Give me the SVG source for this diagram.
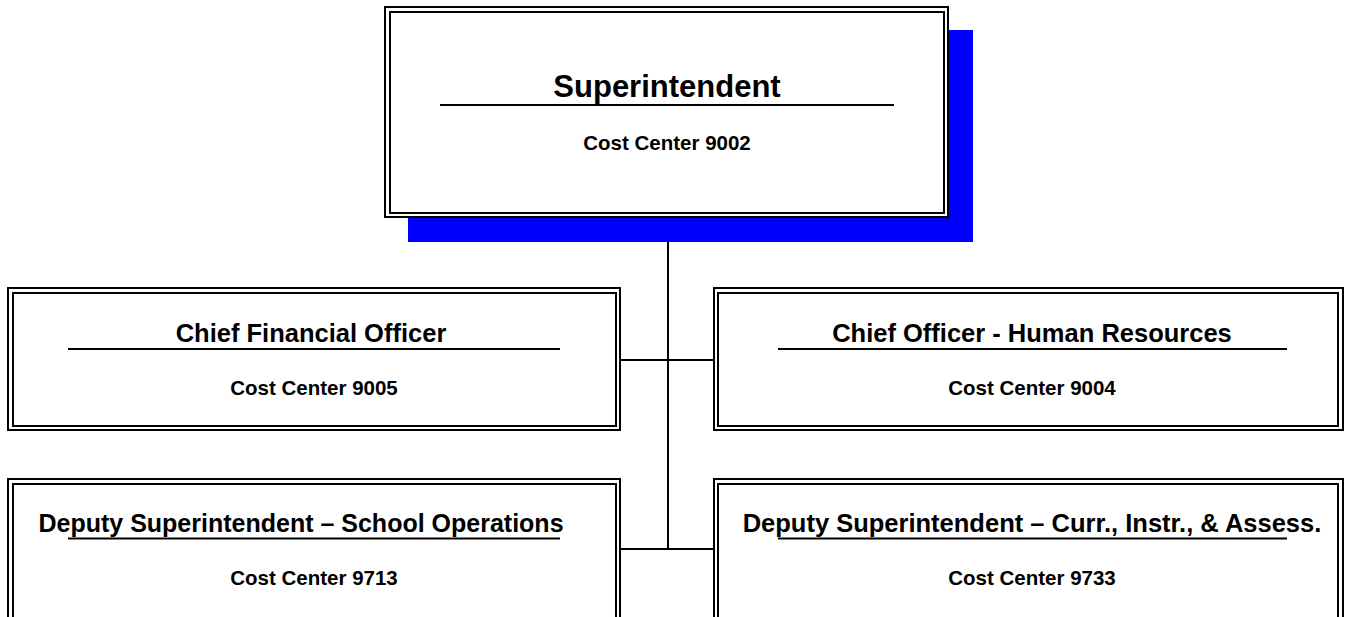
<svg xmlns="http://www.w3.org/2000/svg" width="1345" height="617" viewBox="0 0 1345 617">
<style>
.o{fill:#fff;stroke:#000;stroke-width:2}
.i{fill:none;stroke:#000;stroke-width:2}
.t{font-family:"Liberation Sans",Arial,sans-serif;font-weight:bold;fill:#000;text-anchor:middle}
.h{font-size:25.5px}
.c{font-size:20.5px}
.u{stroke:#000;stroke-width:2}
.k{stroke:#000;stroke-width:2;fill:none}
</style>
<rect width="1345" height="617" fill="#fff"/>
<g id="connectors">
<line class="k" x1="668" y1="217" x2="668" y2="549"/>
<line class="k" x1="620" y1="360" x2="714" y2="360"/>
<line class="k" x1="620" y1="549" x2="714" y2="549"/>
</g>
<g id="superintendent">
<rect x="408" y="30" width="565" height="212" fill="#0000ff"/>
<rect class="o" x="385" y="7" width="563" height="210"/>
<rect class="i" x="390" y="12" width="554" height="201"/>
<text class="t" x="667" y="97" style="font-size:31px">Superintendent</text>
<line class="u" x1="440" y1="105" x2="894" y2="105"/>
<text class="t c" x="667" y="150">Cost Center 9002</text>
</g>
<g id="cfo">
<rect class="o" x="8" y="288" width="612" height="142"/>
<rect class="i" x="13" y="293" width="603" height="133"/>
<text class="t h" x="311" y="342">Chief Financial Officer</text>
<line class="u" x1="68" y1="349" x2="560" y2="349"/>
<text class="t c" x="314" y="395">Cost Center 9005</text>
</g>
<g id="hr">
<rect class="o" x="714" y="288" width="629" height="142"/>
<rect class="i" x="718" y="293" width="620" height="133"/>
<text class="t h" x="1032" y="342">Chief Officer - Human Resources</text>
<line class="u" x1="778" y1="349" x2="1287" y2="349"/>
<text class="t c" x="1032" y="395">Cost Center 9004</text>
</g>
<g id="school-ops">
<rect class="o" x="8" y="479" width="612" height="160"/>
<rect class="i" x="13" y="484" width="603" height="150"/>
<text class="t" x="301" y="532" style="font-size:25px">Deputy Superintendent – School Operations</text>
<line class="u" x1="68" y1="538.5" x2="560" y2="538.5"/>
<text class="t c" x="314" y="585">Cost Center 9713</text>
</g>
<g id="curr-instr">
<rect class="o" x="714" y="479" width="629" height="160"/>
<rect class="i" x="718" y="484" width="620" height="150"/>
<text class="t h" x="1032" y="532">Deputy Superintendent – Curr., Instr., &amp; Assess.</text>
<line class="u" x1="778" y1="538.5" x2="1287" y2="538.5"/>
<text class="t c" x="1032" y="585">Cost Center 9733</text>
</g>
</svg>
